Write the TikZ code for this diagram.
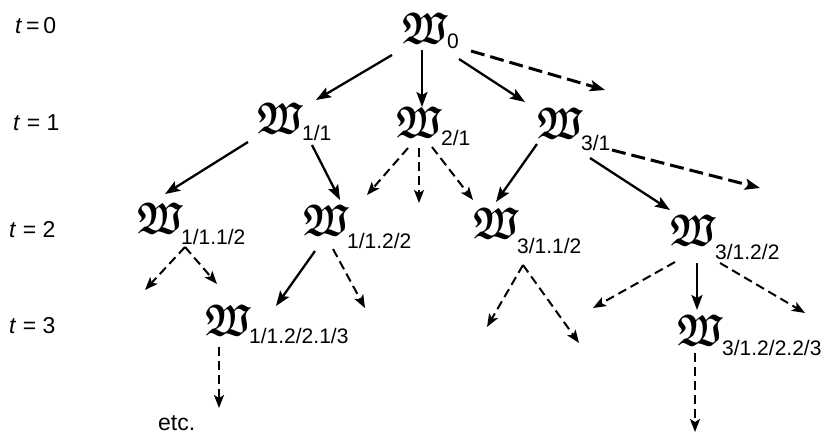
\documentclass[tikz,border=0pt]{standalone}
\usepackage{amssymb}
\usepackage{graphicx}
\usepackage{fontspec}
\setsansfont{Liberation Sans}
\usetikzlibrary{arrows.meta}

% bold Fraktur W, enlarged to the size used in the tree
\newcommand{\FrakW}{\scalebox{1.48}[1.8]{\Huge\boldmath$\mathfrak{W}$}}
\newcommand{\idxfont}{\sffamily\fontsize{21}{24}\selectfont}
\newcommand{\lvlfont}{\sffamily\fontsize{23}{26}\selectfont}

\tikzset{
  frak/.style={inner sep=0pt, anchor=base west},
  idx/.style={inner sep=0pt, anchor=base west, font=\idxfont},
  lvl/.style={inner sep=0pt, anchor=base west, font=\lvlfont},
  conn/.style={line width=2.3pt, -{Stealth[length=15pt,width=11pt,inset=3pt]}},
  conndash/.style={line width=2pt, dash pattern=on 9pt off 5pt,
                   -{Stealth[length=13pt,width=10pt,inset=3pt]}},
  connlong/.style={line width=3pt, dash pattern=on 14pt off 6pt,
                   -{Stealth[length=15pt,width=11pt,inset=3pt]}},
}

\begin{document}
\begin{tikzpicture}[x=1pt,y=-1pt]
\useasboundingbox (0,0) rectangle (830,437);

% time levels
\node[lvl] (t0) at (15,33)  {\textit{t}\,=\,0};
\node[lvl] (t1) at (13,130) {\textit{t} = 1};
\node[lvl] (t2) at (9,237)  {\textit{t} = 2};
\node[lvl] (t3) at (9,333)  {\textit{t} = 3};

% states
\node[frak] (w0)    at (402,43)  {\FrakW};
\node[idx]  (w0i)   at (447,48)  {0};
\node[frak] (w11)   at (257,133) {\FrakW};
\node[idx]  (w11i)  at (302,140) {1/1};
\node[frak] (w21)   at (396,137) {\FrakW};
\node[idx]  (w21i)  at (441,145) {2/1};
\node[frak] (w31)   at (537,138) {\FrakW};
\node[idx]  (w31i)  at (581,150) {3/1};
\node[frak] (w112)  at (137,233) {\FrakW};
\node[idx]  (w112i) at (181,244) {1/1.1/2};
\node[frak] (w122)  at (303,235) {\FrakW};
\node[idx]  (w122i) at (347,248) {1/1.2/2};
\node[frak] (w312)  at (473,238) {\FrakW};
\node[idx]  (w312i) at (517,253) {3/1.1/2};
\node[frak] (w322)  at (670,245) {\FrakW};
\node[idx]  (w322i) at (715,259) {3/1.2/2};
\node[frak] (w1223) at (205,335) {\FrakW};
\node[idx]  (w1223i) at (249,343) {1/1.2/2.1/3};
\node[frak] (w3223) at (677,345) {\FrakW};
\node[idx]  (w3223i) at (722,355) {3/1.2/2.2/3};
\node[lvl]  (etc)   at (158,430) {etc.};

% open ends of branches
\coordinate (f1)  at (605,90);
\coordinate (f2)  at (419,203);
\coordinate (f3)  at (760,188);
\coordinate (f4)  at (145,290);
\coordinate (f5)  at (365,308);
\coordinate (f6)  at (487,327);
\coordinate (f7)  at (579,343);
\coordinate (f8)  at (593,308);
\coordinate (f9)  at (805,313);
\coordinate (f10) at (695,432);

% t = 0 -> t = 1
\draw[conn]     ([shift={(-10,12)}]w0.base west) -- ([shift={(59,-33)}]w11.base west);
\draw[conn]     ([shift={(20,7)}]w0.base west)   -- ([shift={(26,-30)}]w21.base west);
\draw[conn]     ([shift={(57,16)}]w0.base west)  -- ([shift={(-12,-36)}]w31.base west);
\draw[connlong] ([shift={(69,8)}]w0.base west)   -- (f1);

% t = 1 -> t = 2
\draw[conn]     ([shift={(-9,9)}]w11.base west)  -- ([shift={(28,-39)}]w112.base west);
\draw[conn]     ([shift={(55,12)}]w11.base west) -- ([shift={(37,-35)}]w122.base west);
\draw[conndash] ([shift={(12,11)}]w21.base west) -- ([shift={(64,-40)}]w122.base west);
\draw[conndash] ([shift={(23,11)}]w21.base west) -- (f2);
\draw[conndash] ([shift={(36,10)}]w21.base west) -- ([shift={(0,-38)}]w312.base west);
\draw[conn]     ([shift={(0,6)}]w31.base west)   -- ([shift={(23,-36)}]w312.base west);
\draw[conn]     ([shift={(53,20)}]w31.base west) -- ([shift={(0,-35)}]w322.base west);
\draw[connlong] ([shift={(75,12)}]w31.base west) -- (f3);

% t = 2 -> t = 3
\draw[conndash] ([shift={(48,14)}]w112.base west) -- (f4);
\draw[conndash] ([shift={(48,14)}]w112.base west) -- ([shift={(12,-51)}]w1223.base west);
\draw[conn]     ([shift={(12,16)}]w122.base west) -- ([shift={(71,-29)}]w1223.base west);
\draw[conndash] ([shift={(30,14)}]w122.base west) -- (f5);
\draw[conndash] ([shift={(50,27)}]w312.base west) -- (f6);
\draw[conndash] ([shift={(50,27)}]w312.base west) -- (f7);
\draw[conndash] ([shift={(5,17)}]w322.base west)  -- (f8);
\draw[conn]     ([shift={(27,18)}]w322.base west) -- ([shift={(20,-35)}]w3223.base west);
\draw[conndash] ([shift={(50,18)}]w322.base west) -- (f9);

% further steps
\draw[conndash] ([shift={(14,12)}]w1223.base west) -- ([shift={(61,-22)}]etc.base west);
\draw[conndash] ([shift={(18,8)}]w3223.base west) -- (f10);
\end{tikzpicture}
\end{document}
